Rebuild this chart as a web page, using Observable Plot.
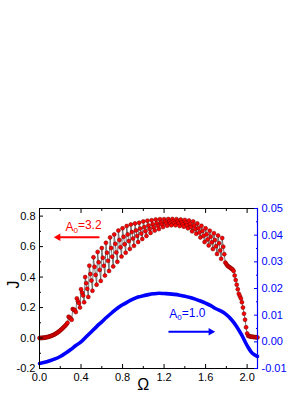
<!DOCTYPE html>
<html><head><meta charset="utf-8">
<script src="https://cdn.jsdelivr.net/npm/d3@7"></script>
<script src="https://cdn.jsdelivr.net/npm/@observablehq/plot@0.6"></script>
<style>body{margin:0;background:#fff} svg{display:block}</style>
</head><body><div id="chart"></div>
<script>
// A0 = 3.2 series (left axis J), sampled every 0.01 in Omega from 0.00 to 2.10
const redJ = [
  0.000,0.000,0.001,0.001,0.002,0.003,0.004,0.005,0.007,0.009, // 0.00
  0.011,0.013,0.016,0.019,0.022,0.026,0.030,0.034,0.039,0.044, // 0.10
  0.050,0.056,0.062,0.069,0.076,0.083,0.090,0.100,0.140,0.134, // 0.20
  0.128,0.120,0.190,0.186,0.183,0.170,0.260,0.242,0.228,0.200, // 0.30
  0.320,0.298,0.279,0.235,0.400,0.360,0.323,0.270,0.475,0.420, // 0.40
  0.377,0.310,0.530,0.467,0.414,0.350,0.565,0.497,0.447,0.375, // 0.50
  0.590,0.527,0.474,0.410,0.625,0.560,0.507,0.440,0.660,0.590, // 0.60
  0.534,0.470,0.680,0.618,0.562,0.500,0.705,0.643,0.595,0.535, // 0.70
  0.720,0.664,0.616,0.560,0.735,0.680,0.636,0.585,0.745,0.695, // 0.80
  0.653,0.605,0.752,0.706,0.670,0.630,0.757,0.718,0.686,0.650, // 0.90
  0.765,0.729,0.701,0.670,0.770,0.739,0.715,0.690,0.773,0.747, // 1.00
  0.726,0.705,0.777,0.754,0.736,0.715,0.780,0.759,0.744,0.728, // 1.10
  0.780,0.763,0.751,0.737,0.781,0.766,0.754,0.740,0.781,0.766, // 1.20
  0.754,0.740,0.780,0.765,0.752,0.735,0.777,0.761,0.747,0.731, // 1.30
  0.775,0.758,0.741,0.720,0.771,0.749,0.728,0.700,0.765,0.739, // 1.40
  0.715,0.684,0.752,0.721,0.693,0.660,0.736,0.703,0.671,0.630, // 1.50
  0.720,0.681,0.647,0.608,0.704,0.665,0.628,0.584,0.688,0.643, // 1.60
  0.602,0.552,0.672,0.622,0.575,0.520,0.656,0.599,0.550,0.495, // 1.70
  0.485,0.475,0.470,0.465,0.460,0.455,0.450,0.440,0.410,0.380, // 1.80
  0.350,0.320,0.290,0.275,0.260,0.235,0.200,0.160,0.120,0.070, // 1.90
  0.030,0.015,0.012,0.010,0.009,0.008,0.007,0.006,0.005,0.005,0.004 // 2.00
];
const redOmega = redJ.map((_, i) => i / 100);

// A0 = 1.0 series (right axis), sampled every 0.05 in Omega from 0.00 to 2.10
const blueJ = [
  -0.0081,-0.0077,-0.0071,-0.0064,-0.0055,-0.0043,-0.0029,-0.0014,0.0000,0.0019,
  0.0038,0.0057,0.0075,0.0093,0.0110,0.0126,0.0139,0.0150,0.0160,0.0168,
  0.0173,0.0177,0.0180,0.0182,0.0181,0.0180,0.0178,0.0175,0.0171,0.0166,
  0.0160,0.0153,0.0145,0.0136,0.0124,0.0115,0.0102,0.0083,0.0057,0.0024,
  -0.0014,-0.0043,-0.0055
];
const blueOmega = blueJ.map((_, i) => i * 0.05);

const xMajor = [0, 0.4, 0.8, 1.2, 1.6, 2.0];
const xMinor = [0.2, 0.6, 1.0, 1.4, 1.8];
const yMajor = [-0.2, 0, 0.2, 0.4, 0.6, 0.8];
const yMinor = [-0.1, 0.1, 0.3, 0.5, 0.7];
const rMajor = [-0.01, 0, 0.01, 0.02, 0.03, 0.04, 0.05];
const rMinor = [-0.005, 0.005, 0.015, 0.025, 0.035, 0.045];

const labels = [
  {text: "A0=3.2", x: 0.25, y: 0.73, color: "#ff0000"},
  {text: "A0=1.0", x: 1.25, y: 0.158, color: "#0000ff"}
];
const arrowL = [{x1: 0.57, x2: 0.17, y: 0.662}];
const arrowR = [{x1: 1.25, x2: 1.66, y: 0.041}];

const RED = "#ff0000", BLUE = "#0000ff";
const yDom = [-0.2, 0.85], rDom = [-0.01, 0.05];
const toLeft = v => yDom[0] + (v - rDom[0]) / (rDom[1] - rDom[0]) * (yDom[1] - yDom[0]);
const fromLeft = y => rDom[0] + (y - yDom[0]) / (yDom[1] - yDom[0]) * (rDom[1] - rDom[0]);
const fix = (v, n) => (Math.abs(v) < 1e-9 ? 0 : v).toFixed(n);

const red = redJ.map((j, i) => ({x: redOmega[i], y: j}));
const blue = blueJ.map((v, i) => ({x: blueOmega[i], v}));

const chart = Plot.plot({
  width: 306, height: 396,
  marginLeft: 39, marginRight: 49, marginTop: 208, marginBottom: 28,
  x: {domain: [0, 2.1]},
  y: {domain: yDom},
  style: {fontFamily: "Liberation Sans, Arial, sans-serif", fontSize: "11px", color: "#000", background: "#fff"},
  marks: [
    Plot.line(blue, {x: "x", y: d => toLeft(d.v), stroke: BLUE, strokeWidth: 3.6, curve: "catmull-rom"}),
    Plot.line(red, {x: "x", y: "y", stroke: "#555", strokeWidth: 0.8}),
    Plot.dot(red, {x: "x", y: "y", r: 2, fill: RED, stroke: "#6a0000", strokeWidth: 0.5}),
    Plot.frame({stroke: "#000", strokeWidth: 1}),
    Plot.axisX({ticks: xMajor, tickSize: -4, tickPadding: 9, tickFormat: d => fix(d, 1), label: null, fontSize: 11}),
    Plot.axisX({ticks: xMinor, tickSize: -2, fill: "none", label: null}),
    Plot.axisX({anchor: "top", ticks: xMajor, tickSize: -4, fill: "none", label: null}),
    Plot.axisX({anchor: "top", ticks: xMinor, tickSize: -2, fill: "none", label: null}),
    Plot.axisY({ticks: yMajor, tickSize: -4, tickPadding: 8, tickFormat: d => fix(d, 1), label: null, fontSize: 11}),
    Plot.axisY({ticks: yMinor, tickSize: -2, fill: "none", label: null}),
    Plot.axisY({anchor: "right", ticks: rMajor.map(toLeft), tickSize: -4, tickPadding: 8, tickFormat: d => fix(fromLeft(d), 2), label: null, color: BLUE, fontSize: 11}),
    Plot.axisY({anchor: "right", ticks: rMinor.map(toLeft), tickSize: -2, fill: "none", stroke: BLUE, label: null}),
    Plot.frame({anchor: "right", stroke: BLUE, strokeWidth: 1.2}),
    Plot.text(labels, {x: "x", y: "y", text: "text", fill: "color", textAnchor: "start", fontSize: 12}),
    Plot.line([{x: arrowL[0].x1, y: arrowL[0].y}, {x: arrowL[0].x2, y: arrowL[0].y}], {x: "x", y: "y", stroke: RED, strokeWidth: 2}),
    Plot.dot(arrowL, {x: "x2", y: "y", symbol: "triangle2", r: 3.6, fill: RED, rotate: -90, dx: 1}),
    Plot.line([{x: arrowR[0].x1, y: arrowR[0].y}, {x: arrowR[0].x2, y: arrowR[0].y}], {x: "x", y: "y", stroke: BLUE, strokeWidth: 2}),
    Plot.dot(arrowR, {x: "x2", y: "y", symbol: "triangle2", r: 3.6, fill: BLUE, rotate: 90, dx: -1}),
    Plot.text(["J"], {frameAnchor: "left", dx: -26, rotate: -90, fontSize: 16}),
    Plot.text(["Ω"], {x: 1.0, frameAnchor: "bottom", dy: 21, fontSize: 16})
  ]
});

// subscript "0" in the A0 labels
d3.select(chart).selectAll("text").each(function() {
  const t = this.textContent;
  if (/^A0=/.test(t)) {
    const sel = d3.select(this);
    sel.text(null);
    sel.append("tspan").text("A");
    sel.append("tspan").attr("dy", "0.3em").attr("font-size", "8px").text("0");
    sel.append("tspan").attr("dy", "-0.3em").text(t.slice(2));
  }
});

document.getElementById("chart").append(chart);
</script>
</body></html>
